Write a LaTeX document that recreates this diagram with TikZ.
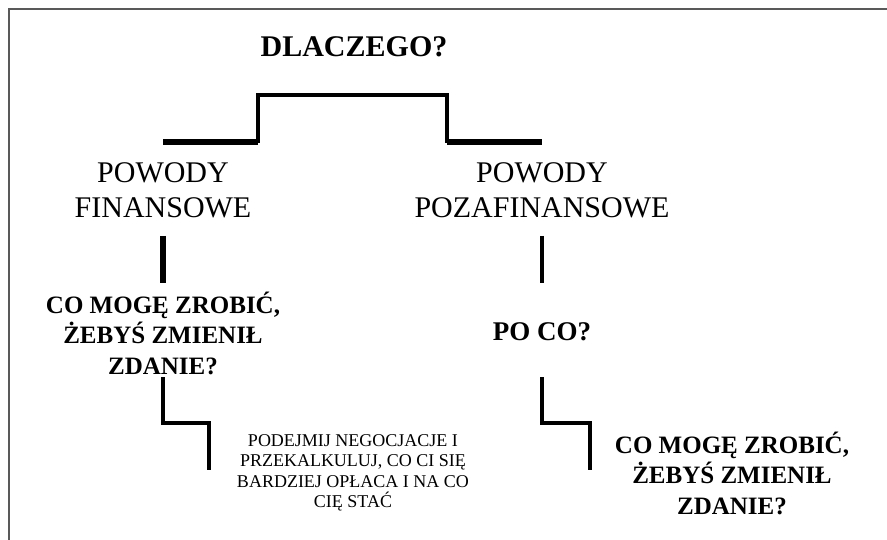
\documentclass[tikz,border=0pt]{standalone}
\usepackage{fontspec}
\setmainfont{Liberation Serif}

\begin{document}
\begin{tikzpicture}[x=1pt,y=-1pt,
    every node/.style={inner sep=0pt,align=center},
    title/.style={font=\fontsize{30}{36}\selectfont\bfseries},
    reason/.style={font=\fontsize{30}{35}\selectfont},
    question/.style={font=\fontsize{25}{30.5}\selectfont\bfseries},
    advice/.style={font=\fontsize{18}{20.5}\selectfont},
    thinbar/.style={line width=3.5pt},
    thickbar/.style={line width=5.5pt},
    stepbar/.style={line width=4pt}]
      \useasboundingbox (0,0) rectangle (887,540);
      % frame
      \draw [black!65, line width=2pt] (9,540) -- (9,9) -- (887,9);
      % texts
      \node [title, anchor=base] (why) at (354,57) {DLACZEGO?};
      \node [reason] (fin) at (163,190) {POWODY\\FINANSOWE};
      \node [reason] (nonfin) at (542,190) {POWODY\\POZAFINANSOWE};
      \node [question] (what1) at (163,333) {CO MOGĘ ZROBIĆ,\\ŻEBYŚ ZMIENIŁ\\ZDANIE?};
      \node [question, font=\fontsize{27}{32}\selectfont\bfseries, anchor=base] (whatfor) at (542,341) {PO CO?};
      \node [advice] (haggle) at (353,473) {PODEJMIJ NEGOCJACJE I\\PRZEKALKULUJ, CO CI SIĘ\\BARDZIEJ OPŁACA I NA CO\\CIĘ STAĆ};
      \node [question] (what2) at (732,473) {CO MOGĘ ZROBIĆ,\\ŻEBYŚ ZMIENIŁ\\ZDANIE?};
      % connectors
      \draw [thickbar] (fin |- 0,142) -- (258,142);
      \draw [thickbar] (447,142) -- (nonfin |- 0,142);
      \draw [thinbar] (258,143) -- (258,95) -- (447,95) -- (447,143);
      \draw [thickbar] (fin |- 0,236) -- (fin |- 0,283);
      \draw [stepbar] (nonfin |- 0,236) -- (nonfin |- 0,283);
      \draw [stepbar] (what1 |- 0,377) -- (what1 |- 0,423) -| (209,470);
      \draw [stepbar] (whatfor |- 0,377) -- (whatfor |- 0,423) -| (590,470);
\end{tikzpicture}
\end{document}
